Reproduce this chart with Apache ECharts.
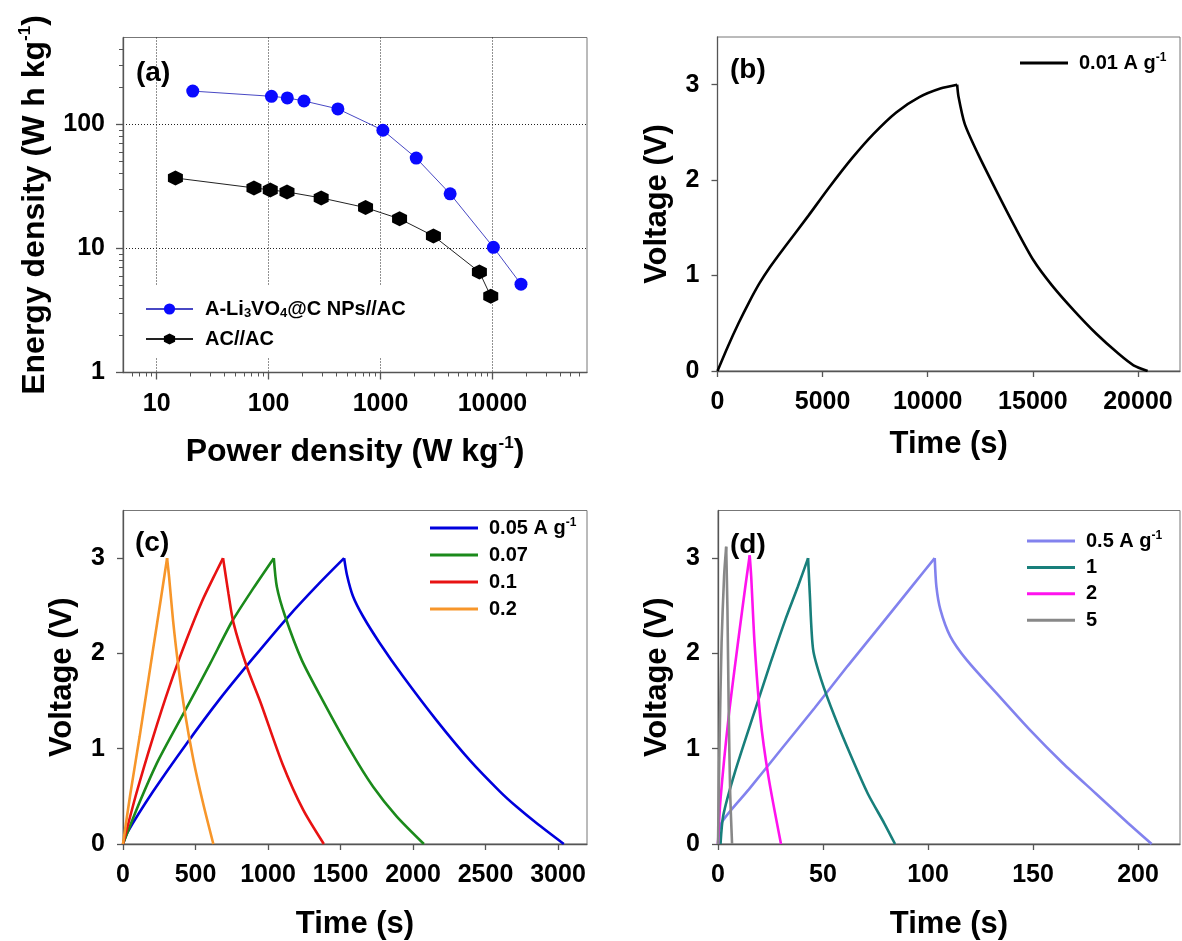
<!DOCTYPE html>
<html>
<head>
<meta charset="utf-8">
<title>Ragone plot and GCD curves</title>
<script src="https://cdn.jsdelivr.net/npm/echarts@6.0.0/dist/echarts.min.js"></script>
<style>
  html, body { margin: 0; padding: 0; background: #fff; }
  #chart { width: 1182px; height: 941px; }
</style>
</head>
<body>
<div id="chart"></div>
<script>
// ------------------------------
// Data
// ------------------------------

// (a) Ragone plot
var lvoName = 'A-Li3VO4@C NPs//AC';
var acName = 'AC//AC';
var lvoPower = [21, 106, 147, 207, 416, 1050, 2085, 4190, 10200, 18000];
var lvoEnergy = [185, 168, 163, 154, 133, 89.5, 53.4, 27.5, 10.2, 5.15];
var acPower = [14.7, 74, 103.5, 146, 295, 735, 1480, 2970, 7650, 9660];
var acEnergy = [36.9, 30.7, 29.6, 28.5, 25.5, 21.3, 17.3, 12.6, 6.45, 4.12];

var ragoneMajorX = [10, 100, 1000, 10000];
var ragoneMinorX = [6, 7, 8, 9, 20, 30, 40, 50, 60, 70, 80, 90, 200, 300, 400, 500, 600, 700, 800, 900,
    2000, 3000, 4000, 5000, 6000, 7000, 8000, 9000, 20000, 30000, 40000, 50000, 60000];
var ragoneMajorY = [1, 10, 100];
var ragoneMinorY = [2, 3, 4, 5, 6, 7, 8, 9, 20, 30, 40, 50, 60, 70, 80, 90, 200, 300, 400];

// (b) 0.01 A/g  [time (s), voltage (V)]
var b001Charge = [[0, 0], [500, 0.26], [1000, 0.5], [1500, 0.72], [2000, 0.92], [2500, 1.09], [3200, 1.30],
    [4300, 1.62], [5300, 1.92], [6400, 2.23], [7400, 2.48], [8500, 2.71], [9600, 2.87], [10600, 2.96], [11400, 3.0]];
var b001Discharge = [[11400, 3.0], [11460, 2.88], [11760, 2.59], [12380, 2.28], [13260, 1.89], [14150, 1.51],
    [15030, 1.16], [15900, 0.90], [16970, 0.63], [18020, 0.39], [19080, 0.18], [19790, 0.06], [20460, 0]];

// (c)
var c005Charge = [[0, 0], [30, 0.12], [207, 0.55], [437, 1.05], [667, 1.52], [897, 1.95], [1142, 2.39], [1356, 2.74], [1525, 3.0]];
var c005Discharge = [[1525, 3.0], [1545, 2.82], [1586, 2.6], [1655, 2.39], [1770, 2.11], [1931, 1.76], [2161, 1.3],
    [2391, 0.88], [2600, 0.55], [2715, 0.39], [2851, 0.22], [3040, 0]];
var c007Charge = [[0, 0], [115, 0.44], [244, 0.88], [428, 1.40], [600, 1.89], [750, 2.33], [897, 2.68], [1040, 3.0]];
var c007Discharge = [[1040, 3.0], [1061, 2.70], [1118, 2.39], [1233, 1.93], [1380, 1.50], [1565, 0.99],
    [1725, 0.60], [1887, 0.29], [2075, 0]];
var c01Charge = [[0, 0], [92, 0.53], [207, 1.12], [322, 1.66], [437, 2.14], [543, 2.54], [644, 2.86], [690, 3.0]];
var c01Discharge = [[690, 3.0], [705, 2.85], [727, 2.63], [762, 2.32], [854, 1.86], [950, 1.48], [1100, 0.84],
    [1242, 0.36], [1385, 0]];
var c02Charge = [[0, 0], [50, 0.52], [115, 1.13], [207, 2.04], [264, 2.6], [304, 3.0]];
var c02Discharge = [[304, 3.0], [318, 2.8], [345, 2.35], [382, 1.86], [428, 1.37], [486, 0.88], [552, 0.43], [623, 0]];

// (d)
var d05Charge = [[0, 0], [1.6, 0.22], [14.6, 0.57], [30.3, 1.0], [46.1, 1.43], [61.8, 1.87], [77.6, 2.3], [93.3, 2.73], [103.2, 3.0]];
var d05Discharge = [[103.2, 3.0], [104, 2.7], [105.9, 2.46], [110.6, 2.18], [118.5, 1.93], [132.7, 1.58], [148.4, 1.2],
    [164.1, 0.85], [179.9, 0.53], [195.2, 0.22], [206.5, 0]];
var d1Charge = [[1.2, 0], [2.5, 0.3], [8, 0.75], [17.7, 1.41], [25, 1.9], [32, 2.35], [38, 2.7], [42.9, 3.0]];
var d1Discharge = [[42.9, 3.0], [43.7, 2.63], [45.3, 2.04], [49.2, 1.72], [55.5, 1.34], [63.4, 0.92], [71.3, 0.53], [79.1, 0.22], [84.3, 0]];
var d2Charge = [[0, 0], [1.2, 0.47], [5.1, 1.34], [9.9, 2.18], [13, 2.7], [15.1, 3.03]];
var d2Discharge = [[15.1, 3.03], [15.8, 2.81], [17.4, 2.11], [20.1, 1.34], [24, 0.71], [30, 0]];
var d5Charge = [[0, 0], [0.74, 1.06], [1.7, 2.11], [2.9, 2.81], [3.9, 3.12]];
var d5Discharge = [[3.9, 3.12], [4.5, 2.46], [5.1, 1.41], [5.8, 0.53], [6.7, 0]];

var voltTicks = [0, 1, 2, 3];
var bTimeTicks = [0, 5000, 10000, 15000, 20000];
var cTimeTicks = [0, 500, 1000, 1500, 2000, 2500, 3000];
var dTimeTicks = [0, 50, 100, 150, 200];


// ------------------------------
// Styles
// ------------------------------

var FONT = '"Liberation Sans", Arial, sans-serif';
var AXIS_COLOR = '#555';

var legendRich = {
    n: { fontFamily: FONT, fontWeight: 'bold', fontSize: 20, color: '#000', lineHeight: 22 },
    sup: { fontFamily: FONT, fontWeight: 'bold', fontSize: 12, color: '#000', lineHeight: 12, verticalAlign: 'top' },
    sub: { fontFamily: FONT, fontWeight: 'bold', fontSize: 13, color: '#000', lineHeight: 13, verticalAlign: 'bottom' }
};

function nameRich(size) {
    return {
        t: { fontFamily: FONT, fontWeight: 'bold', fontSize: size, color: '#000', lineHeight: size + 4 },
        sup: { fontFamily: FONT, fontWeight: 'bold', fontSize: 17, color: '#000', lineHeight: 17, verticalAlign: 'top' }
    };
}

var legendFormatter = function(name) {
    if (name === lvoName) {
        return '{n|A-Li}{sub|3}{n|VO}{sub|4}{n|@C NPs//AC}';
    }
    if (name.indexOf(' A g-1') > 0) {
        return '{n|' + name.replace('-1', '') + '}{sup|-1}';
    }
    return '{n|' + name + '}';
};

var plainNumber = function(v) {
    return String(Math.round(v * 1000) / 1000);
};

function pairs(xs, ys) {
    return xs.map(function(x, i) { return [x, ys[i]]; });
}

function axisLine() {
    return { show: true, lineStyle: { color: AXIS_COLOR, width: 1.3 } };
}

function tickLabel(values, margin) {
    return {
        customValues: values,
        margin: margin,
        fontFamily: FONT,
        fontWeight: 'bold',
        fontSize: 25,
        color: '#000',
        formatter: plainNumber
    };
}

function valueX(grid, max, ticks, gap) {
    return {
        gridIndex: grid, type: 'value', min: 0, max: max,
        axisLine: axisLine(),
        axisTick: { show: true, length: 6, customValues: ticks, lineStyle: { color: AXIS_COLOR, width: 1.3 } },
        axisLabel: tickLabel(ticks, 19),
        splitLine: { show: false },
        name: '{t|Time (s)}', nameLocation: 'middle', nameGap: gap,
        nameTextStyle: { rich: nameRich(31) }
    };
}

function voltY(grid) {
    return {
        gridIndex: grid, type: 'value', min: 0, max: 3.5,
        axisLine: axisLine(),
        axisTick: { show: true, length: 6, customValues: voltTicks, lineStyle: { color: AXIS_COLOR, width: 1.3 } },
        axisLabel: tickLabel(voltTicks, 18),
        splitLine: { show: false },
        name: '{t|Voltage (V)}', nameLocation: 'middle', nameGap: 43,
        nameTextStyle: { rich: nameRich(31) }
    };
}

// Charge and discharge branches share one name so the legend shows a single entry
function gcd(name, color, axis, charge, discharge) {
    var base = {
        name: name, type: 'line', xAxisIndex: axis, yAxisIndex: axis,
        symbol: 'none', smooth: 0.25,
        itemStyle: { color: color },
        lineStyle: { color: color, width: 2.6 }
    };
    return [
        Object.assign({}, base, { data: charge }),
        Object.assign({}, base, { data: discharge })
    ];
}

function gcdLegend(names, left, top, gap) {
    return {
        data: names, orient: 'vertical', left: left, top: top,
        padding: 0, itemWidth: 48, itemHeight: 3, itemGap: gap,
        icon: 'rect',
        selectedMode: false,
        formatter: legendFormatter,
        textStyle: { rich: legendRich, padding: [0, 0, 0, 6] }
    };
}

function panelLabel(text, left, top) {
    return {
        text: text, left: left, top: top, padding: 0,
        textStyle: { fontFamily: FONT, fontWeight: 'bold', fontSize: 28, color: '#000' }
    };
}

var hexagon = 'path://M0,-1L0.866,-0.5L0.866,0.5L0,1L-0.866,0.5L-0.866,-0.5Z';
var dotted = { type: [1, 2], color: '#222', width: 1 };


// ------------------------------
// Chart
// ------------------------------

var chart = echarts.init(document.getElementById('chart'), null, { renderer: 'canvas' });

var gridStyle = { show: true, borderColor: '#777', borderWidth: 1, containLabel: false };

chart.setOption({
    animation: false,
    backgroundColor: '#fff',

    title: [
        panelLabel('(a)', 136, 59),
        panelLabel('(b)', 730, 56),
        panelLabel('(c)', 135, 529),
        panelLabel('(d)', 730, 531)
    ],

    grid: [
        Object.assign({ left: 123, top: 37.5, width: 464, height: 335 }, gridStyle),
        Object.assign({ left: 717.5, top: 37, width: 462.5, height: 334 }, gridStyle),
        Object.assign({ left: 123, top: 510.5, width: 464, height: 334 }, gridStyle),
        Object.assign({ left: 718, top: 510.5, width: 462, height: 334 }, gridStyle)
    ],

    legend: [
        {
            data: [lvoName, acName], orient: 'vertical', left: 140, top: 286,
            padding: [13, 10, 8, 5], backgroundColor: '#fff',
            itemWidth: 47, itemHeight: 14, itemGap: 9,
            selectedMode: false,
            formatter: legendFormatter,
            textStyle: { rich: legendRich, padding: [0, 0, 0, 7] }
        },
        gcdLegend(['0.01 A g-1'], 1020, 52, 5),
        gcdLegend(['0.05 A g-1', '0.07', '0.1', '0.2'], 430, 517, 7),
        gcdLegend(['0.5 A g-1', '1', '2', '5'], 1027, 530, 6.4)
    ],

    xAxis: [
        {
            gridIndex: 0, type: 'log', min: 5, max: 70000,
            axisLine: axisLine(),
            axisTick: { show: true, length: 7, customValues: ragoneMajorX, lineStyle: { color: AXIS_COLOR, width: 1.3 } },
            axisLabel: tickLabel(ragoneMajorX, 19),
            splitLine: { show: true, lineStyle: dotted },
            name: '{t|Power density (W kg}{sup|-1}{t|)}', nameLocation: 'middle', nameGap: 62,
            nameTextStyle: { rich: nameRich(32) }
        },
        {
            gridIndex: 0, type: 'log', min: 5, max: 70000, position: 'bottom',
            axisLine: { show: false },
            axisTick: { show: true, length: 4, customValues: ragoneMinorX, lineStyle: { color: AXIS_COLOR, width: 1 } },
            axisLabel: { show: false },
            splitLine: { show: false }
        },
        valueX(1, 22000, bTimeTicks, 56),
        valueX(2, 3200, cTimeTicks, 63),
        valueX(3, 220, dTimeTicks, 63)
    ],

    yAxis: [
        {
            gridIndex: 0, type: 'log', min: 1, max: 500,
            axisLine: axisLine(),
            axisTick: { show: true, length: 7, customValues: ragoneMajorY, lineStyle: { color: AXIS_COLOR, width: 1.3 } },
            axisLabel: tickLabel(ragoneMajorY, 18),
            splitLine: { show: true, lineStyle: dotted },
            name: '{t|Energy density (W h kg}{sup|-1}{t|)}', nameLocation: 'middle', nameGap: 70,
            nameTextStyle: { rich: nameRich(32) }
        },
        {
            gridIndex: 0, type: 'log', min: 1, max: 500, position: 'left',
            axisLine: { show: false },
            axisTick: { show: true, length: 4, customValues: ragoneMinorY, lineStyle: { color: AXIS_COLOR, width: 1 } },
            axisLabel: { show: false },
            splitLine: { show: false }
        },
        voltY(1),
        voltY(2),
        voltY(3)
    ],

    series: [
        {
            name: lvoName, type: 'line', xAxisIndex: 0, yAxisIndex: 0,
            data: pairs(lvoPower, lvoEnergy),
            symbol: 'circle', symbolSize: 13,
            itemStyle: { color: '#0a0aff' },
            lineStyle: { color: '#4848c4', width: 1 },
            z: 3
        },
        {
            name: acName, type: 'line', xAxisIndex: 0, yAxisIndex: 0,
            data: pairs(acPower, acEnergy),
            symbol: hexagon, symbolSize: 15,
            itemStyle: { color: '#000' },
            lineStyle: { color: '#222', width: 1 },
            z: 3
        }
    ]
        .concat(gcd('0.01 A g-1', '#000000', 2, b001Charge, b001Discharge))
        .concat(gcd('0.05 A g-1', '#0000dd', 3, c005Charge, c005Discharge))
        .concat(gcd('0.07', '#1b8a1b', 3, c007Charge, c007Discharge))
        .concat(gcd('0.1', '#e81212', 3, c01Charge, c01Discharge))
        .concat(gcd('0.2', '#f7962a', 3, c02Charge, c02Discharge))
        .concat(gcd('0.5 A g-1', '#8282ee', 4, d05Charge, d05Discharge))
        .concat(gcd('1', '#187f7b', 4, d1Charge, d1Discharge))
        .concat(gcd('2', '#ff12ee', 4, d2Charge, d2Discharge))
        .concat(gcd('5', '#888888', 4, d5Charge, d5Discharge))
});

window.addEventListener('resize', function() {
    chart.resize();
});
</script>
</body>
</html>
